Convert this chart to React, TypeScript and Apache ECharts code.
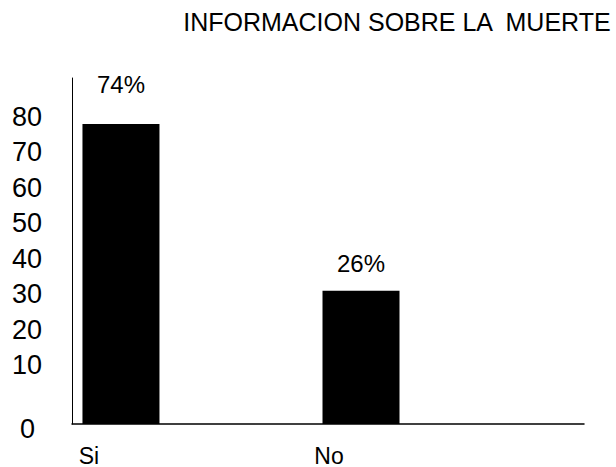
import React, { useEffect, useRef } from "react";
import * as echarts from "echarts";

const TITLE = "INFORMACION SOBRE LA  MUERTE";
const categories = ["Si", "No"];
// bar heights
const barHeights = [78, 31];
// percentage labels printed above the bars
const percentLabels = ["74%", "26%"];
const yTickValues = [10, 20, 30, 40, 50, 60, 70, 80];
const Y_MIN = -6.6;
const Y_MAX = 91;
const X_MIN = -0.204;
const X_MAX = 1.929;
const labelDistances = [28, 15];

const FONT = "'Liberation Sans', Arial, sans-serif";

export default function App() {
  const ref = useRef<HTMLDivElement>(null);
  useEffect(() => {
    if (!ref.current) return;
    const chart = echarts.init(ref.current, null, { renderer: "svg" });
    chart.setOption({
      animation: false,
      backgroundColor: "#ffffff",
      textStyle: { fontFamily: FONT, color: "#000" },
      title: {
        text: TITLE,
        right: 4,
        top: 9,
        padding: 0,
        textStyle: { fontFamily: FONT, fontSize: 25, fontWeight: "normal", color: "#000" },
      },
      grid: { left: 72, right: 32, top: 78, bottom: 42, containLabel: false },
      xAxis: {
        type: "value",
        min: X_MIN,
        max: X_MAX,
        splitLine: { show: false },
        axisTick: { show: false },
        axisLine: { show: true, onZero: false, lineStyle: { color: "#000", width: 1.5 } },
        axisLabel: {
          customValues: categories.map((_, i) => i),
          formatter: (v: number) => categories[Math.round(v)] ?? "",
          color: "#000",
          fontFamily: FONT,
          fontSize: 23,
          margin: 20,
          padding: [0, 64, 0, 0],
        },
      },
      yAxis: {
        type: "value",
        min: Y_MIN,
        max: Y_MAX,
        startValue: Y_MIN,
        splitLine: { show: false },
        axisTick: { show: false },
        axisLine: { show: true, onZero: false, lineStyle: { color: "#000", width: 1 } },
        axisLabel: {
          customValues: [Y_MIN, ...yTickValues],
          formatter: (v: number) => (v === Y_MIN ? "{z|0}" : String(v)),
          color: "#000",
          fontFamily: FONT,
          fontSize: 27,
          margin: 30,
          rich: {
            z: { fontSize: 27, fontFamily: FONT, color: "#000", padding: [10, 7, 0, 0] },
          },
        },
      },
      series: [
        {
          type: "bar",
          barWidth: 77,
          itemStyle: { color: "#000" },
          data: barHeights.map((v, i) => ({
            value: [i, v],
            label: { distance: labelDistances[i] },
          })),
          label: {
            show: true,
            position: "top",
            formatter: (p: any) => percentLabels[p.dataIndex],
            color: "#000",
            fontFamily: FONT,
            fontSize: 24,
          },
        },
      ],
    });
    return () => chart.dispose();
  }, []);
  return (
    <div
      ref={ref}
      style={{ position: "fixed", left: 0, top: 0, width: 616, height: 467, background: "#fff" }}
    />
  );
}
